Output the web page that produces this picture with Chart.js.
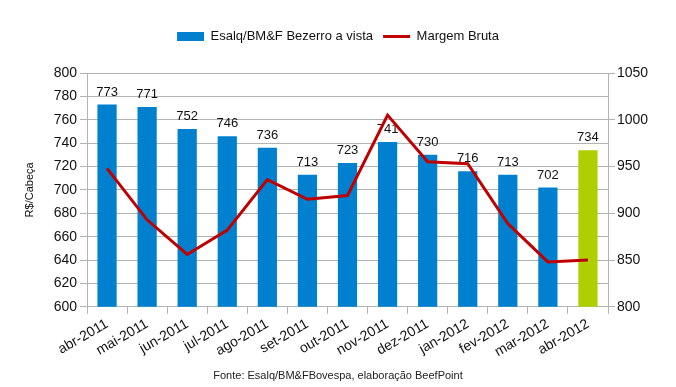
<!DOCTYPE html>
<html>
<head>
<meta charset="utf-8">
<script src="https://cdn.jsdelivr.net/npm/chart.js@4.4.1/dist/chart.umd.min.js"></script>
<style>
  html, body { margin: 0; padding: 0; background: #fff; }
  #wrap { width: 676px; height: 387px; }
</style>
</head>
<body>
<div id="wrap"><canvas id="chart" width="676" height="387"></canvas></div>
<script>
// values
const months = ["abr-2011", "mai-2011", "jun-2011", "jul-2011", "ago-2011", "set-2011", "out-2011",
  "nov-2011", "dez-2011", "jan-2012", "fev-2012", "mar-2012", "abr-2012"];
const bezerro = [773, 771, 752, 746, 736, 713, 723, 741, 730, 716, 713, 702, 734];
const margemBruta = [948, 893, 856, 882, 936, 915, 919, 1005, 955, 953, 889, 848, 850];

const blue = "#0080cf";
const green = "#b0cf00";
const barColors = months.map((m, i) => (i === months.length - 1 ? green : blue));

const fontFamily = "'Liberation Sans', Arial, sans-serif";

// value labels above the bars, drawn before the line so the line passes over them
const barLabels = {
  id: "barLabels",
  afterDatasetDraw(chart, args) {
    if (args.index !== 0) return;
    const ctx = chart.ctx;
    ctx.save();
    ctx.font = "13px " + fontFamily;
    ctx.fillStyle = "#111";
    ctx.textAlign = "center";
    ctx.textBaseline = "bottom";
    args.meta.data.forEach((bar, i) => {
      ctx.fillText(bezerro[i], bar.x, bar.y - 6);
    });
    ctx.restore();
  }
};

// legend box taller than chart.js makes it, so the plot starts lower
const legendHeight = {
  id: "legendHeight",
  afterInit(chart) {
    const lg = chart.legend;
    if (!lg) return;
    const fit = lg.fit;
    lg.fit = function () {
      fit.call(this);
      this.height = 53;
    };
  }
};

new Chart(document.getElementById("chart"), {
  type: "bar",
  data: {
    labels: months,
    datasets: [
      {
        type: "bar",
        label: "Esalq/BM&F Bezerro a vista",
        data: bezerro,
        backgroundColor: barColors,
        borderWidth: 0,
        barPercentage: 0.48,
        categoryPercentage: 1,
        yAxisID: "y",
        order: 2,
        pointStyle: "rect"
      },
      {
        type: "line",
        label: "Margem Bruta",
        data: margemBruta,
        borderColor: "#c00000",
        backgroundColor: "#c00000",
        borderWidth: 3,
        pointRadius: 0,
        tension: 0,
        yAxisID: "y1",
        order: 1,
        pointStyle: "line"
      }
    ]
  },
  options: {
    responsive: false,
    animation: false,
    layout: { padding: { top: 20, left: 0, right: 0, bottom: 0 } },
    plugins: {
      legend: {
        position: "top",
        labels: {
          usePointStyle: true,
          pointStyleWidth: 27,
          boxWidth: 27,
          boxHeight: 9,
          padding: 10,
          color: "#111",
          font: { family: fontFamily, size: 13 },
          sort: (a, b) => a.datasetIndex - b.datasetIndex
        }
      },
      title: {
        display: true,
        position: "bottom",
        text: "Fonte: Esalq/BM&FBovespa, elaboração BeefPoint",
        color: "#222",
        font: { family: fontFamily, size: 11, weight: "normal" },
        padding: { top: 0, bottom: 4 }
      },
      tooltip: { enabled: false }
    },
    scales: {
      x: {
        offset: true,
        grid: {
          offset: true,
          drawOnChartArea: false,
          drawTicks: true,
          tickLength: 7,
          color: "#b3b3b3"
        },
        border: { color: "#b3b3b3" },
        ticks: {
          autoSkip: false,
          maxRotation: 30,
          minRotation: 30,
          padding: 2,
          color: "#111",
          font: { family: fontFamily, size: 14 }
        },
        afterFit: scale => { scale.height = 63; }
      },
      y: {
        position: "left",
        min: 600,
        max: 800,
        ticks: {
          stepSize: 20,
          padding: 3,
          color: "#111",
          font: { family: fontFamily, size: 14 }
        },
        grid: { color: "#b3b3b3", tickLength: 7 },
        border: { color: "#b3b3b3" },
        title: {
          display: true,
          text: "R$/Cabeça",
          color: "#111",
          font: { family: fontFamily, size: 11 },
          padding: { top: 23, bottom: 0 }
        },
        afterFit: scale => { scale.width = 87; }
      },
      y1: {
        position: "right",
        min: 800,
        max: 1050,
        ticks: {
          stepSize: 50,
          padding: 2,
          color: "#111",
          font: { family: fontFamily, size: 14 },
          callback: v => String(v)
        },
        grid: { drawOnChartArea: false, color: "#b3b3b3", tickLength: 7 },
        border: { color: "#b3b3b3" },
        afterFit: scale => { scale.width = 68; }
      }
    }
  },
  plugins: [barLabels, legendHeight]
});
</script>
</body>
</html>
